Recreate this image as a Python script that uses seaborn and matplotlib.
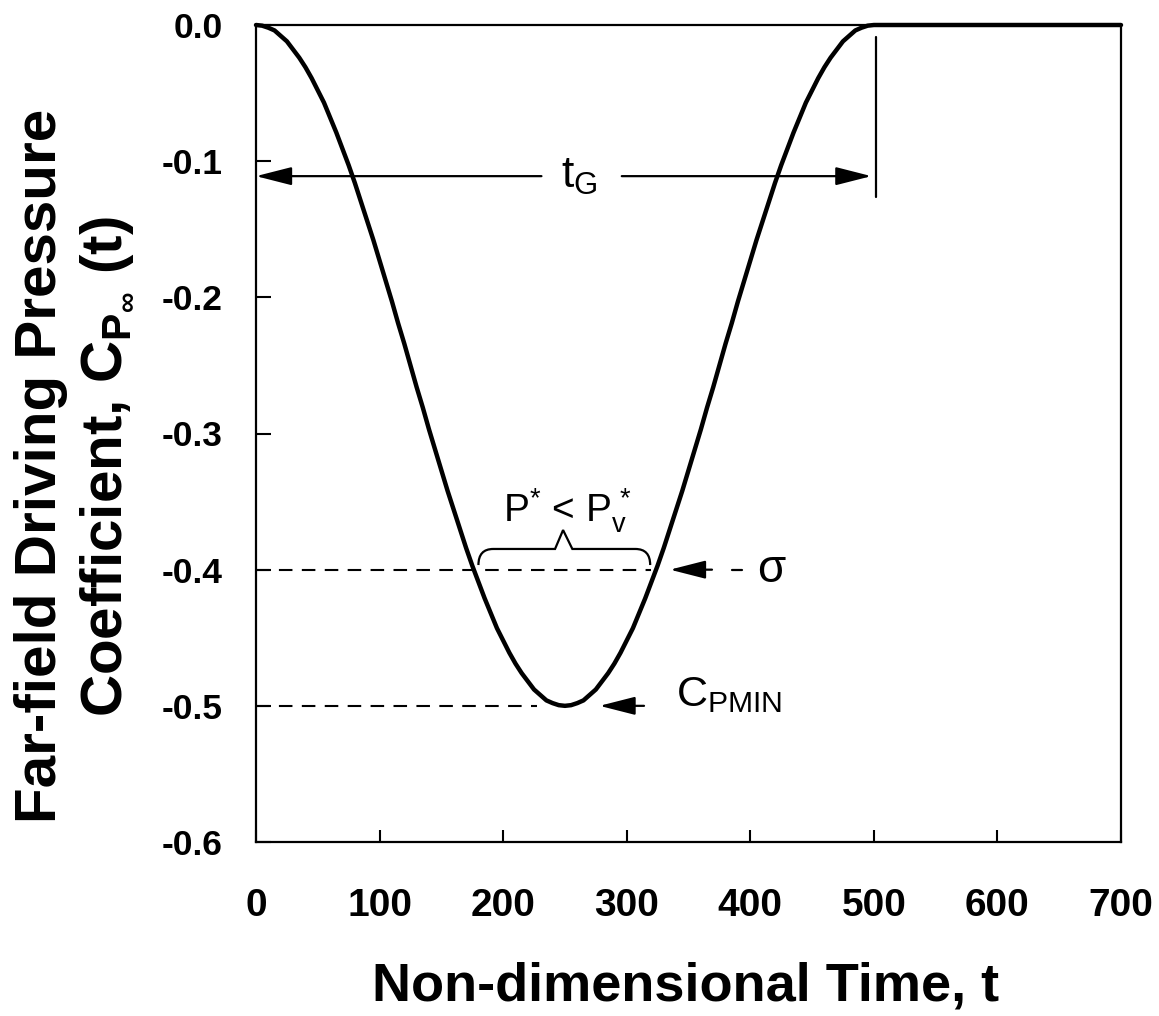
import matplotlib
matplotlib.use("Agg")
import matplotlib.pyplot as plt
import seaborn as sns
import pandas as pd
from matplotlib.path import Path
from matplotlib.patches import PathPatch

# ---- data ----
time_t = [0, 5, 10, 15, 20, 25, 30, 35, 40, 45, 50, 55, 60, 65, 70, 75, 80, 85,
          90, 95, 100, 105, 110, 115, 120, 125, 130, 135, 140, 145, 150, 155,
          160, 165, 170, 175, 180, 185, 190, 195, 200, 205, 210, 215, 220, 225,
          230, 235, 240, 245, 250, 255, 260, 265, 270, 275, 280, 285, 290, 295,
          300, 305, 310, 315, 320, 325, 330, 335, 340, 345, 350, 355, 360, 365,
          370, 375, 380, 385, 390, 395, 400, 405, 410, 415, 420, 425, 430, 435,
          440, 445, 450, 455, 460, 465, 470, 475, 480, 485, 490, 495, 500, 700]
cp_values = [0.000, -0.0005, -0.002, -0.004, -0.008, -0.012, -0.018, -0.024,
             -0.031, -0.039, -0.048, -0.057, -0.068, -0.079, -0.091, -0.103,
             -0.116, -0.130, -0.144, -0.158, -0.173, -0.188, -0.203, -0.219,
             -0.234, -0.250, -0.266, -0.281, -0.297, -0.312, -0.327, -0.342,
             -0.356, -0.370, -0.384, -0.397, -0.409, -0.421, -0.432, -0.443,
             -0.452, -0.461, -0.469, -0.476, -0.482, -0.488, -0.492, -0.496,
             -0.498, -0.4995, -0.500, -0.4995, -0.498, -0.496, -0.492, -0.488,
             -0.482, -0.476, -0.469, -0.461, -0.452, -0.443, -0.432, -0.421,
             -0.409, -0.397, -0.384, -0.370, -0.356, -0.342, -0.327, -0.312,
             -0.297, -0.281, -0.266, -0.250, -0.234, -0.219, -0.203, -0.188,
             -0.173, -0.158, -0.144, -0.130, -0.116, -0.103, -0.091, -0.079,
             -0.068, -0.057, -0.048, -0.039, -0.031, -0.024, -0.018, -0.012,
             -0.008, -0.004, -0.002, -0.0005, 0.000, 0.000]
x_ticks = [0, 100, 200, 300, 400, 500, 600, 700]
x_tick_labels = ["0", "100", "200", "300", "400", "500", "600", "700"]
y_ticks = [0.0, -0.1, -0.2, -0.3, -0.4, -0.5, -0.6]
y_tick_labels = ["0.0", "-0.1", "-0.2", "-0.3", "-0.4", "-0.5", "-0.6"]
sigma_level = -0.4
cp_min_level = -0.5
t_g = 500

sns.set_theme(style="white")
plt.rcParams["font.family"] = ["Liberation Sans", "DejaVu Sans"]
plt.rcParams["axes.unicode_minus"] = False
plt.rcParams["mathtext.fontset"] = "custom"
plt.rcParams["mathtext.rm"] = "Liberation Sans"
plt.rcParams["mathtext.it"] = "Liberation Sans:italic"
plt.rcParams["mathtext.bf"] = "Liberation Sans:bold"
plt.rcParams["mathtext.sf"] = "Liberation Sans"
plt.rcParams["text.color"] = "black"
plt.rcParams["axes.labelcolor"] = "black"
plt.rcParams["xtick.color"] = "black"
plt.rcParams["ytick.color"] = "black"

df = pd.DataFrame({"t": time_t, "cp": cp_values})

fig = plt.figure(figsize=(11.59, 10.16), dpi=100)
ax = fig.add_axes([256 / 1159, 1 - 842 / 1016, 865 / 1159, 817 / 1016])

sns.lineplot(data=df, x="t", y="cp", ax=ax, color="black", linewidth=3.2,
             clip_on=False, zorder=5)

ax.set_xlim(0, 700)
ax.set_ylim(-0.6, 0.0)

for side in ["left", "right", "top", "bottom"]:
    ax.spines[side].set_visible(True)
    ax.spines[side].set_color("black")
    ax.spines[side].set_linewidth(1.6)

ax.set_xticks(x_ticks)
ax.set_xticklabels(x_tick_labels, fontsize=28, fontweight="bold")
ax.set_yticks(y_ticks)
ax.set_yticklabels(y_tick_labels, fontsize=25.5, fontweight="bold")
ax.tick_params(axis="x", direction="in", length=9, width=1.5, pad=33,
               bottom=True, top=False, colors="black")
ax.tick_params(axis="y", direction="in", length=11, width=1.5, pad=24,
               left=True, right=False, colors="black")

ax.set_xlabel("Non-dimensional Time, t", fontsize=39, fontweight="bold", color="black")
ax.xaxis.set_label_coords(0.497, -0.146)
ax.xaxis.label.set_verticalalignment("top")

ax.set_ylabel("Far-field Driving Pressure\nCoefficient, $\\mathbf{C_{P_{\\infty}}}$ (t)",
              fontsize=42, fontweight="bold", linespacing=1.22, color="black")
ax.yaxis.set_label_coords(-0.141, 0.46)

# ---- annotations ----
dash_style = (0, (6.5, 4.5))
ax.plot([0, 320], [sigma_level, sigma_level], color="black", lw=1.5, ls=dash_style)
ax.plot([0, 227], [cp_min_level, cp_min_level], color="black", lw=1.5, ls=dash_style)

arrow_kw = dict(arrowstyle="-|>,head_length=1.1,head_width=0.28",
                color="black", lw=1.6, shrinkA=0, shrinkB=0, mutation_scale=20)

# t_G dimension arrow
yg = -0.111
ax.annotate("", xy=(0, yg), xytext=(231, yg), arrowprops=arrow_kw)
ax.annotate("", xy=(t_g - 2, yg), xytext=(296, yg), arrowprops=arrow_kw)
ax.plot([501.5, 501.5], [-0.009, -0.1265], color="black", lw=1.6)
ax.text(262, yg, "$\\mathrm{t_G}$", fontsize=32, ha="center", va="center")

# sigma arrow
ax.annotate("", xy=(335, sigma_level), xytext=(369, sigma_level), arrowprops=arrow_kw)
ax.plot([385, 393], [sigma_level, sigma_level], color="black", lw=1.6)
ax.text(417, sigma_level, "σ", fontsize=33, ha="center", va="center")

# C_PMIN arrow
ax.annotate("", xy=(278, cp_min_level), xytext=(314, cp_min_level), arrowprops=arrow_kw)
ax.text(340, cp_min_level, "$\\mathrm{C_{PMIN}}$", fontsize=31, ha="left", va="baseline")

# brace
y_end, y_mid, y_peak = -0.3966, -0.3848, -0.3709
verts = [(180, y_end), (180, y_mid), (192, y_mid), (242, y_mid), (248.5, y_peak),
         (256, y_mid), (307, y_mid), (319, y_mid), (319, y_end)]
codes = [Path.MOVETO, Path.CURVE3, Path.CURVE3, Path.LINETO, Path.LINETO,
         Path.LINETO, Path.LINETO, Path.CURVE3, Path.CURVE3]
ax.add_patch(PathPatch(Path(verts, codes), facecolor="none", edgecolor="black", lw=1.6))
ax.text(252, -0.365, "$\\mathrm{P^{*}}$ < $\\mathrm{P_{v}^{\\,*}}$", fontsize=28,
        ha="center", va="baseline")

fig.savefig("out.png", dpi=100, facecolor="white")
